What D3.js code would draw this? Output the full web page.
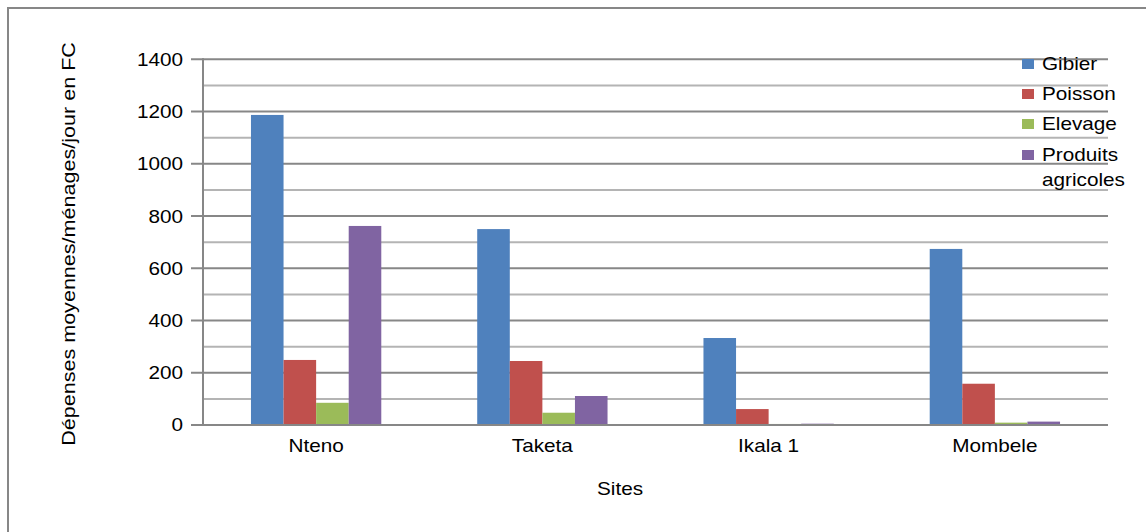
<!DOCTYPE html>
<html><head><meta charset="utf-8">
<script src="https://cdn.jsdelivr.net/npm/d3@7"></script>
<style>
html,body{margin:0;padding:0;background:#fff;}
text{font-family:"Liberation Sans",Arial,sans-serif;fill:#000;}
</style></head>
<body>
<svg id="c" width="1146" height="532"></svg>
<script>
const categories = ["Nteno", "Taketa", "Ikala 1", "Mombele"];
const seriesNames = ["Gibier", "Poisson", "Elevage", "Produits agricoles"];
const gibier = [1187, 750, 333, 674];
const poisson = [249, 245, 61, 158];
const elevage = [85, 47, 4, 9];
const produits = [762, 111, 5, 13];
const yTicks = [0, 200, 400, 600, 800, 1000, 1200, 1400];
const yMinor = [100, 300, 500, 700, 900, 1100, 1300];
const colors = ["#4f81bd", "#c0504d", "#9bbb59", "#8064a2"];
const values = [gibier, poisson, elevage, produits];

const svg = d3.select("#c");
const L = 203, R = 1108, T = 59.3, B = 425;
const dark = "#878787", light = "#b4b4b4";
const FS = 18.5;

// outer border
svg.append("path").attr("d", "M8,540 L8,8 L1150,8").attr("fill","none").attr("stroke", dark).attr("stroke-width", 2);

const y = d3.scaleLinear().domain([0,1400]).range([B,T]);
const x = d3.scaleBand().domain(categories).range([L,R]).padding(0);
const xi = d3.scaleBand().domain(seriesNames).range([x.bandwidth()*0.212, x.bandwidth()*0.788]).padding(0);

// minor gridlines
svg.append("g").selectAll("line").data(yMinor).join("line")
  .attr("x1", L).attr("x2", R).attr("y1", d=>y(d)).attr("y2", d=>y(d))
  .attr("stroke", light).attr("stroke-width", 2);
// major gridlines + ticks
svg.append("g").selectAll("line").data(yTicks).join("line")
  .attr("x1", L-12).attr("x2", R).attr("y1", d=>y(d)).attr("y2", d=>y(d))
  .attr("stroke", dark).attr("stroke-width", 2);
svg.append("g").selectAll("text").data(yTicks).join("text")
  .attr("x", 183).attr("y", d=>y(d)).attr("dy","0.35em")
  .attr("text-anchor","end").attr("font-size", FS).text(d=>d);

// bars
const groups = svg.append("g").selectAll("g").data(categories).join("g")
  .attr("transform", c=>`translate(${x(c)},0)`);
groups.selectAll("rect").data((c,i)=>seriesNames.map((s,j)=>({s, v: values[j][i], j})))
  .join("rect")
  .attr("x", d=>xi(d.s)).attr("width", xi.bandwidth())
  .attr("y", d=>y(d.v)).attr("height", d=>B - y(d.v))
  .attr("fill", d=>colors[d.j]);

// y axis line
svg.append("line").attr("x1", L).attr("x2", L).attr("y1", T-1).attr("y2", B+1)
  .attr("stroke", dark).attr("stroke-width", 2);
// x axis line
svg.append("line").attr("x1", L).attr("x2", R).attr("y1", B).attr("y2", B)
  .attr("stroke", dark).attr("stroke-width", 2);

// x labels
svg.append("g").selectAll("text").data(categories).join("text")
  .attr("x", c=>x(c)+x.bandwidth()/2).attr("y", 446).attr("dy","0.35em")
  .attr("text-anchor","middle").attr("font-size", FS).text(c=>c);

// axis titles
svg.append("text").attr("x", 620).attr("y", 489).attr("dy","0.35em")
  .attr("text-anchor","middle").attr("font-size", FS).text("Sites");
svg.append("text").attr("class","ytitle").attr("transform","translate(69,244) rotate(-90)").attr("dy","0.35em")
  .attr("text-anchor","middle").attr("font-size", FS).text("Dépenses moyennes/ménages/jour en FC");

// legend
const legY = [64, 94, 124, 155];
const lg = svg.append("g");
seriesNames.forEach((s,i)=>{
  lg.append("rect").attr("x", 1022).attr("y", legY[i]-5).attr("width", 12).attr("height", 10).attr("fill", colors[i]);
  const t = lg.append("text").attr("x", 1042).attr("y", legY[i]).attr("dy","0.35em").attr("font-size", FS);
  if (s === "Produits agricoles") {
    t.text("Produits");
    lg.append("text").attr("x", 1042).attr("y", legY[i]+25).attr("dy","0.35em").attr("font-size", FS).text("agricoles");
  } else t.text(s);
});

// horizontal stretch of text to match reference rendering
svg.selectAll("text").each(function(){
  const k = this.classList.contains("ytitle") ? 1.165 : 1.12;
  const w = this.getComputedTextLength();
  this.setAttribute("textLength", w*k);
  this.setAttribute("lengthAdjust", "spacingAndGlyphs");
});
</script>
</body></html>
